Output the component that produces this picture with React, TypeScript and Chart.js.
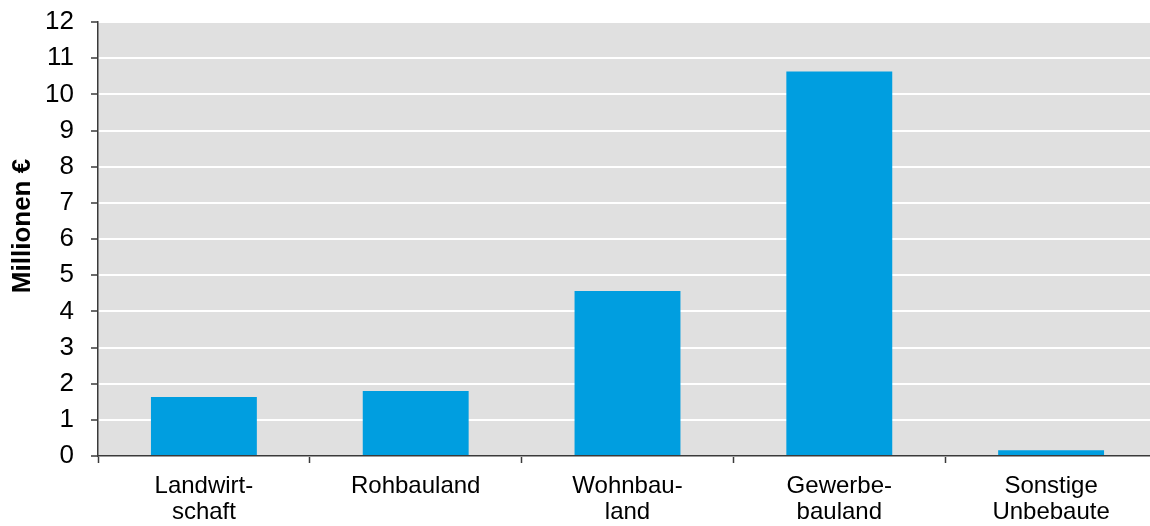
import React, { useEffect, useRef } from "react";
import { Chart, registerables } from "chart.js";

Chart.register(...registerables);

const categories: string[][] = [
  ["Landwirt-", "schaft"],
  ["Rohbauland"],
  ["Wohnbau-", "land"],
  ["Gewerbe-", "bauland"],
  ["Sonstige", "Unbebaute"],
];

const values: number[] = [1.63, 1.8, 4.56, 10.63, 0.16];

const yTicks: number[] = [0, 1, 2, 3, 4, 5, 6, 7, 8, 9, 10, 11, 12];

const yTitle = "Millionen €";

const FONT = "'Liberation Sans', Arial, Helvetica, sans-serif";
const AXIS = "#3a3a3a";

// Grey plot area behind the grid and bars.
const plotBackground = {
  id: "plotBackground",
  beforeDraw(chart: any) {
    const { ctx, chartArea } = chart;
    ctx.save();
    ctx.fillStyle = "#e0e0e0";
    ctx.fillRect(
      chartArea.left,
      chartArea.top,
      chartArea.right - chartArea.left,
      chartArea.bottom - chartArea.top
    );
    ctx.restore();
  },
};

// Rotated bold y-axis title at the left edge.
const yAxisTitle = {
  id: "yAxisTitle",
  afterDraw(chart: any) {
    const { ctx, chartArea } = chart;
    const cy = (chartArea.top + chartArea.bottom) / 2 - 13;
    ctx.save();
    ctx.translate(23, cy);
    ctx.rotate(-Math.PI / 2);
    ctx.fillStyle = "#000";
    ctx.font = `bold 26px ${FONT}`;
    ctx.textAlign = "center";
    ctx.textBaseline = "middle";
    ctx.fillText(yTitle, 0, 0);
    ctx.restore();
  },
};

export default function App() {
  const canvasRef = useRef<HTMLCanvasElement | null>(null);

  useEffect(() => {
    if (!canvasRef.current) return;
    const chart = new Chart(canvasRef.current, {
      type: "bar",
      data: {
        labels: categories,
        datasets: [
          {
            data: values,
            backgroundColor: "#009ee0",
            borderWidth: 0,
            barPercentage: 0.5,
            categoryPercentage: 1,
          },
        ],
      },
      plugins: [plotBackground, yAxisTitle],
      options: {
        animation: false,
        responsive: false,
        maintainAspectRatio: false,
        layout: { padding: { top: 22, right: 3, left: 0, bottom: 0 } },
        plugins: {
          legend: { display: false },
          tooltip: { enabled: false },
        },
        scales: {
          x: {
            grid: {
              offset: true,
              drawOnChartArea: false,
              drawTicks: true,
              tickLength: 7,
              tickColor: AXIS,
              tickWidth: 1.5,
            },
            border: { color: AXIS, width: 1.5 },
            ticks: {
              color: "#000",
              font: { family: FONT, size: 24, lineHeight: 1.06 },
              padding: 11,
              maxRotation: 0,
              autoSkip: false,
            },
            afterFit(scale: any) {
              scale.height = 70;
              scale.paddingLeft = 0;
              scale.paddingRight = 0;
            },
          },
          y: {
            min: 0,
            max: 12,
            afterBuildTicks(scale: any) {
              scale.ticks = yTicks.map((v) => ({ value: v }));
            },
            grid: {
              color: "#ffffff",
              lineWidth: 2,
              drawTicks: true,
              tickLength: 7,
              tickColor: AXIS,
              tickWidth: 1.5,
            },
            border: { color: AXIS, width: 1.5 },
            ticks: {
              color: "#000",
              font: { family: FONT, size: 26 },
              padding: 17,
            },
            afterFit(scale: any) {
              scale.width = 98;
              scale.paddingTop = 0;
              scale.paddingBottom = 0;
            },
          },
        },
      },
    });
    return () => chart.destroy();
  }, []);

  return (
    <div
      style={{
        position: "fixed",
        left: 0,
        top: 0,
        width: 1150,
        height: 526,
        overflow: "hidden",
        background: "#fff",
      }}
    >
      <canvas ref={canvasRef} width={1160} height={526} style={{ display: "block" }} />
    </div>
  );
}
